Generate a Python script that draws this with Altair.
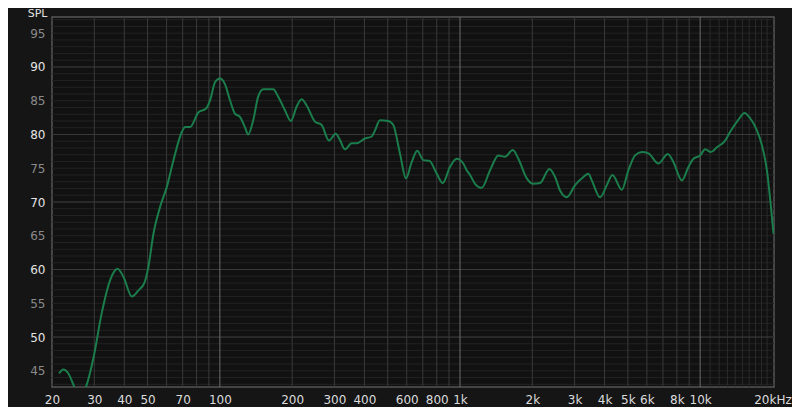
import altair as alt
import pandas as pd

# Frequency response (Hz, dB SPL)
freq = [21.4, 22.3, 23.4, 24.8, 26.2, 27.7, 29.8, 32.2, 34.9, 37.5, 39.7, 43.0, 45.8, 48.6, 50.4,
        52.9, 56.4, 60.1, 64.1, 69.5, 71.7, 75.2, 81.5, 87.4, 91.1, 95.6, 100, 104.9, 110.1, 115.5,
        121.2, 127.1, 131.2, 137.7, 144.4, 151.5, 166.8, 175.0, 186.6, 197.6, 208.7, 219.0, 229.8,
        248.8, 265.4, 284.6, 303.5, 316.2, 331.8, 353.8, 371.1, 402.0, 428.7, 442.5, 464.2, 502.7,
        527.4, 562.3, 595.7, 629.2, 663.9, 703.3, 744.8, 800, 847.1, 908.5, 969.0, 1032, 1066, 1101,
        1155, 1231, 1334, 1444, 1540, 1659, 1750, 1897, 2021, 2154, 2356, 2488, 2610, 2784, 3015,
        3265, 3425, 3538, 3831, 4087, 4312, 4719, 5026, 5360, 5717, 6090, 6704, 7335, 7742, 8390,
        8939, 9378, 10000, 10490, 11080, 11740, 12710, 13340, 14440, 15300, 16160, 17230, 18080,
        18970, 19580, 20210]
spl = [44.6, 45.2, 44.6, 42.6, 41.0, 42.6, 47.0, 53.5, 58.4, 60.1, 58.9, 56.0, 56.9, 58.1, 60.4,
       65.3, 69.3, 72.2, 76.2, 80.4, 81.1, 81.1, 83.3, 83.8, 85.1, 87.8, 88.3, 87.5, 85.1, 83.1,
       82.6, 81.1, 80.0, 82.1, 85.6, 86.7, 86.7, 85.6, 83.6, 82.0, 84.1, 85.2, 84.3,
       81.9, 81.4, 79.1, 80.1, 79.2, 77.8, 78.7, 78.7, 79.4, 79.7, 80.6, 82.1, 82.0,
       81.4, 77.2, 73.5, 75.9, 77.6, 76.2, 76.1, 74.2, 72.8, 75.2, 76.4, 75.7, 74.7, 74.0,
       72.7, 72.1, 74.7, 76.9, 76.7, 77.7, 76.4, 73.5, 72.7, 72.8, 74.9, 73.7, 71.7, 70.7, 72.5,
       73.7, 74.2, 73.2, 70.7, 72.5, 74.0, 71.8, 74.7, 76.9, 77.4, 77.2, 75.7, 77.1, 75.9, 73.2,
       75.2, 76.4, 76.9, 77.8, 77.4, 78.1, 79.1, 80.4, 82.2, 83.2, 82.4, 80.6, 78.4,
       74.7, 70.3, 65.3]

x_ticks = [20, 30, 40, 50, 70, 100, 200, 300, 400, 600, 800, 1000, 2000, 3000, 4000, 5000,
           6000, 8000, 10000, 20000]
y_ticks = [45, 50, 55, 60, 65, 70, 75, 80, 85, 90, 95]

v_grid = [30, 40, 50, 60, 70, 80, 90, 200, 300, 400, 500, 600, 700, 800, 900,
          2000, 3000, 4000, 5000, 6000, 7000, 8000, 9000]
v_major = [100, 1000, 10000]
v_fine = [11000, 12000, 13000, 14000, 15000, 16000, 17000, 18000, 19000]
h_minor = list(range(43, 98))
h_major = [50, 60, 70, 80, 90]

FONT = "DejaVu Sans"
xscale = alt.Scale(type="log", domain=[20, 20300], nice=False)
yscale = alt.Scale(domain=[42.6, 97.4], nice=False, zero=False)

xax = alt.Axis(values=x_ticks, grid=False, ticks=False, domain=False, labelFlush=False,
               labelExpr="datum.value == 20000 ? '20kHz' : (datum.value >= 1000 ? (datum.value/1000) + 'k' : datum.value)",
               labelColor="#dcdcdc", labelFontSize=12, labelFont=FONT, labelPadding=7,
               title=None)
yax = alt.Axis(values=y_ticks, grid=False, ticks=False, domain=False,
               labelColor={"condition": {"test": "datum.value % 10 === 0", "value": "#e4e4e4"},
                           "value": "#8a8a8a"},
               labelFontSize=12, labelFont=FONT, labelPadding=7,
               title="SPL", titleAngle=0, titleAlign="right", titleBaseline="middle",
               titleX=-5, titleY=-4, titleColor="#e0e0e0", titleFontSize=11,
               titleFontWeight="normal", titleFont=FONT)

X = lambda: alt.X("freq:Q", scale=xscale, axis=xax)
Y = lambda: alt.Y("spl:Q", scale=yscale, axis=yax)

df = pd.DataFrame({"freq": freq, "spl": spl})

def hrules(vals, color):
    return alt.Chart(pd.DataFrame({"spl": vals})).mark_rule(color=color, strokeWidth=1).encode(y=Y())

def vrules(vals, color):
    return alt.Chart(pd.DataFrame({"freq": vals})).mark_rule(color=color, strokeWidth=1).encode(x=X())

line = alt.Chart(df).mark_line(color="#1a7d4b", strokeWidth=2, interpolate="monotone",
                               clip=True).encode(x=X(), y=Y())

chart = alt.layer(
    hrules(h_minor, "#232323"),
    vrules(v_fine, "#2a2a2a"),
    hrules(h_major, "#3a3a3a"),
    vrules(v_grid, "#3a3a3a"),
    vrules(v_major, "#6c6c6c"),
    line,
).properties(
    width=722, height=370,
    autosize=alt.AutoSizeParams(type="none"),
    padding={"left": 44, "top": 9, "right": 18, "bottom": 20},
    background="#151515",
).configure_view(
    fill="#111111", stroke="#555555", strokeWidth=1.5
)

chart.save("out.html", embed_options={"renderer": "svg", "actions": False})
